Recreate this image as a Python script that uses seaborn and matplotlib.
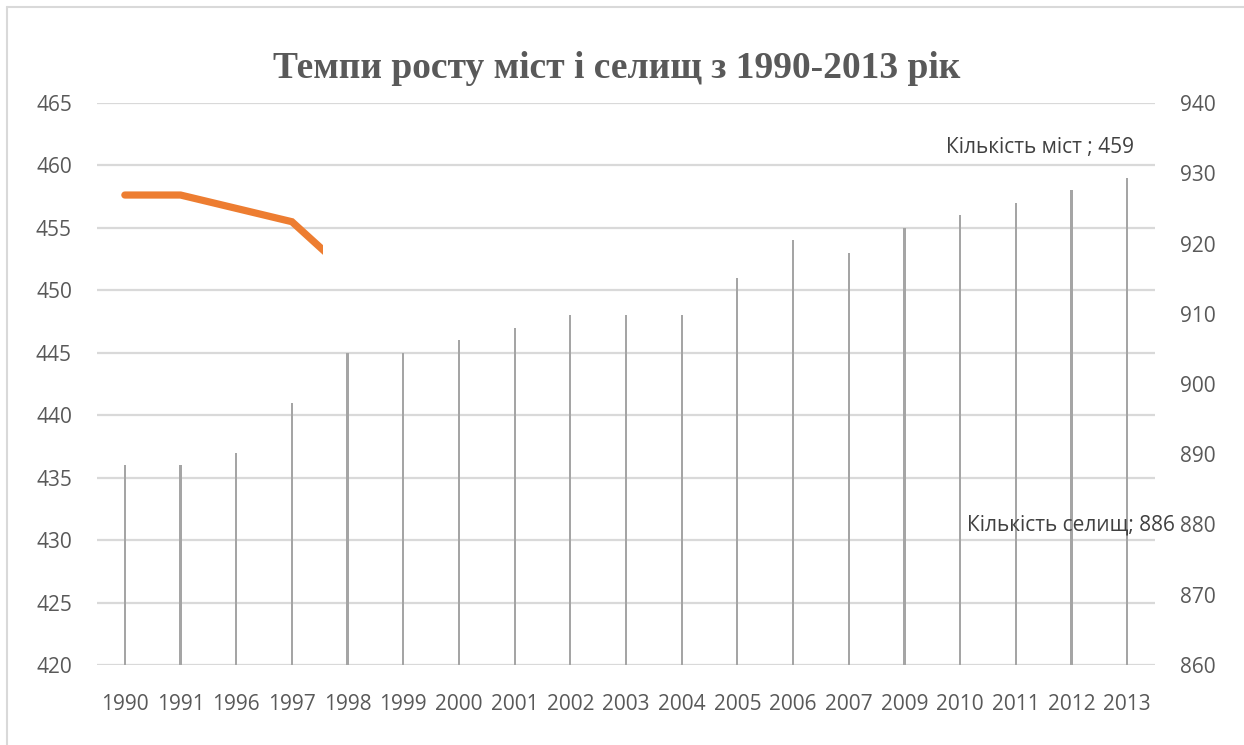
import numpy as np
import pandas as pd
import matplotlib
matplotlib.use("Agg")
import matplotlib.pyplot as plt
from matplotlib.lines import Line2D
from matplotlib.patches import Rectangle
import seaborn as sns

# ---- data ----
years = ["1990", "1991", "1996", "1997", "1998", "1999", "2000", "2001", "2002", "2003",
         "2004", "2005", "2006", "2007", "2009", "2010", "2011", "2012", "2013"]
cities = [436, 436, 437, 441, 445, 445, 446, 447, 448, 448,
          448, 451, 454, 453, 455, 456, 457, 458, 459]
# settlements (secondary axis) - only the visible start of the series
settle_years = ["1990", "1991", "1996", "1997", "1998"]
settlements = [926.9, 926.9, 925.0, 923.1, 915.9]

title = "Темпи росту міст і селищ з 1990-2013 рік"
label_cities = "Кількість міст ; 459"
label_settle = "Кількість селищ; 886"

left_ticks = list(range(420, 466, 5))
right_ticks = list(range(860, 941, 10))

# ---- style ----
sns.set_theme(style="white")
plt.rcParams['font.family'] = ['Open Sans', 'DejaVu Sans']
txt_col = '#595959'
grid_col = '#D9D9D9'

W, H = 1244, 745
fig = plt.figure(figsize=(W / 100, H / 100), dpi=100)
fig.patch.set_facecolor('white')
ax = fig.add_axes([97 / W, 1 - 665 / H, (1155 - 97) / W, (665 - 103) / H])

df = pd.DataFrame({"year": years, "cities": cities})
sns.barplot(data=df, x="year", y="cities", ax=ax, color='#A5A5A5',
            width=0.04, saturation=1, order=years, linewidth=0)

ax.set_ylim(420, 465)
ax.set_yticks(left_ticks)
ax.set_xlim(-0.5, len(years) - 0.5)
ax.set_axisbelow(True)
ax.yaxis.grid(True, color=grid_col, linewidth=1.6)
ax.xaxis.grid(False)
for s in ax.spines.values():
    s.set_visible(False)
ax.set_xlabel("")
ax.set_ylabel("")
ax.tick_params(axis='y', length=0, pad=18, labelsize=15, labelcolor=txt_col)
ax.tick_params(axis='x', length=0, pad=21, labelsize=15, labelcolor=txt_col)

ax2 = ax.twinx()
ds = pd.DataFrame({"year": settle_years, "settlements": settlements})
sns.lineplot(data=ds, x="year", y="settlements", ax=ax2, color='#ED7D31',
             linewidth=5.2, sort=False, solid_capstyle='round', solid_joinstyle='miter')
ax2.set_ylim(860, 940)
ax2.set_yticks(right_ticks)
ax2.set_xlim(-0.5, len(years) - 0.5)
for s in ax2.spines.values():
    s.set_visible(False)
ax2.set_ylabel("")
ax2.grid(False)
ax2.tick_params(axis='y', length=0, pad=18, labelsize=15, labelcolor=txt_col)
clip = Rectangle((-0.5, 850), 4.05, 100, transform=ax2.transData)
for ln in ax2.lines:
    ln.set_clip_path(clip)

# data labels
ax.annotate(label_cities, xy=(len(years) - 1, cities[-1]), xytext=(7, 30),
            textcoords='offset pixels', ha='right', va='center',
            fontsize=15, color='#404040')
ax2.annotate(label_settle, xy=(len(years) - 1, 886), xytext=(48, -43),
             textcoords='offset pixels', ha='right', va='center',
             fontsize=15, color='#404040', annotation_clip=False)

fig.text(617 / W, 1 - 68 / H, title, ha='center', va='center',
         fontfamily='Liberation Serif', fontweight='bold', fontsize=27, color=txt_col)

# outer chart border (top and left visible)
fig.add_artist(Line2D([7 / W, 1], [1 - 7 / H, 1 - 7 / H], transform=fig.transFigure,
                      color=grid_col, linewidth=1.5))
fig.add_artist(Line2D([7 / W, 7 / W], [0, 1 - 7 / H], transform=fig.transFigure,
                      color=grid_col, linewidth=1.5))

fig.savefig("out.png", dpi=100, facecolor='white')
